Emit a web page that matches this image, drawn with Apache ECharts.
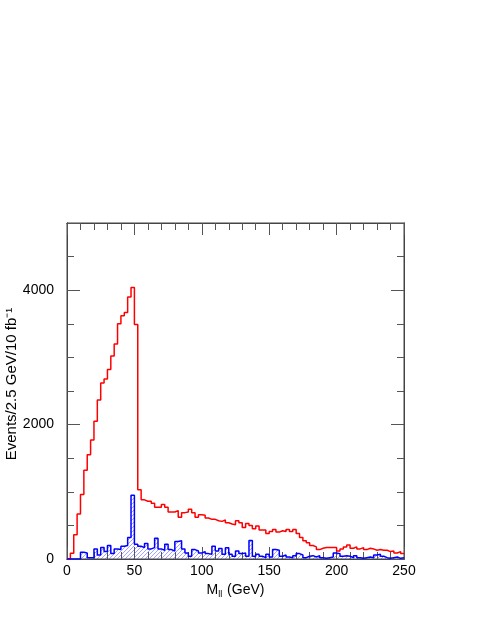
<!doctype html>
<html lang="en">
<head>
    <meta charset="utf-8">
    <title>M_ll histogram</title>
    <style>
        html, body { margin: 0; padding: 0; background: #fff; }
        #chart { width: 485px; height: 627px; }
    </style>
</head>
<body>
    <div id="chart"></div>
    <script src="https://cdn.jsdelivr.net/npm/echarts@6/dist/echarts.min.js"></script>
    <script>
        // bin width 2.5 GeV, 100 bins from 0 to 250
        var binWidth = 2.5;
        var redCounts = [
            0, 85, 360, 670, 960, 1320, 1550, 1770, 2050, 2365,
            2620, 2680, 2820, 3020, 3200, 3500, 3620, 3670, 3900, 4040,
            3490, 1030, 880, 860, 860, 830, 770, 770, 810, 770,
            700, 700, 720, 620, 690, 700, 740, 690, 620, 660,
            650, 610, 590, 590, 570, 560, 580, 540, 520, 510,
            570, 540, 470, 530, 500, 450, 490, 430, 430, 380,
            410, 440, 400, 420, 410, 440, 410, 440, 380, 320,
            270, 240, 200, 180, 140, 160, 170, 170, 170, 170,
            120, 150, 180, 210, 160, 180, 150, 170, 140, 160,
            150, 130, 140, 130, 130, 110, 120, 90, 110, 80
        ];
        var blueCounts = [
            0, 0, 0, 0, 100, 90, 20, 20, 150, 60,
            170, 110, 200, 80, 150, 140, 190, 200, 320, 950,
            220, 190, 170, 230, 150, 170, 310, 150, 130, 220,
            140, 120, 260, 270, 150, 90, 40, 140, 120, 90,
            110, 80, 70, 190, 120, 157, 70, 167, 70, 40,
            120, 80, 90, 40, 277, 40, 70, 40, 20, 70,
            30, 140, 130, 40, 60, 30, 20, 50, 80, 60,
            20, 40, 50, 30, 50, 20, 10, 20, 30, 90,
            80, 40, 50, 40, 20, 50, 20, 10, 20, 30,
            20, 60, 70, 40, 20, 10, 20, 30, 10, 20
        ];
        var xTicks = [0, 50, 100, 150, 200, 250];
        var yTicks = [0, 2000, 4000];

        function stepData(counts) {
            var pts = [];
            for (var i = 0; i < counts.length; i++) {
                pts.push([i * binWidth, counts[i]]);
            }
            pts.push([counts.length * binWidth, counts[counts.length - 1]]);
            return pts;
        }

        // hatch pattern for the blue fill
        var hatch = document.createElement('canvas');
        hatch.width = 4;
        hatch.height = 4;
        var hc = hatch.getContext('2d');
        hc.strokeStyle = 'rgba(80,80,255,0.75)';
        hc.lineWidth = 0.7;
        hc.beginPath();
        hc.moveTo(0, 4); hc.lineTo(4, 0);
        hc.moveTo(-1, 1); hc.lineTo(1, -1);
        hc.moveTo(3, 5); hc.lineTo(5, 3);
        hc.stroke();

        var frameColor = '#444';
        var tickColor = '#555';
        var font = 'Liberation Sans';

        function xAxisDef(pos, interval, len, withLabels) {
            return {
                type: 'value', position: pos, min: xTicks[0], max: xTicks[xTicks.length - 1], interval: interval,
                axisLine: { show: true, onZero: false, lineStyle: { color: frameColor, width: 1 } },
                axisTick: { show: true, inside: true, length: len, lineStyle: { color: tickColor } },
                splitLine: { show: false },
                axisLabel: {
                    show: withLabels, color: '#000', fontSize: 14, margin: 5, fontFamily: font
                },
                name: withLabels ? '{m|M}{s|ll}{m| (GeV)}' : '',
                nameLocation: 'middle',
                nameGap: 21,
                nameTextStyle: {
                    rich: {
                        m: { fontSize: 14, color: '#000', fontFamily: font, verticalAlign: 'top' },
                        s: { fontSize: 9, color: '#000', fontFamily: font, verticalAlign: 'top', padding: [7, 1, 0, 0] }
                    }
                }
            };
        }

        function yAxisDef(pos, interval, len, withLabels) {
            return {
                type: 'value', position: pos, min: 0, max: 5000, interval: interval,
                axisLine: { show: true, onZero: false, lineStyle: { color: frameColor, width: 1 } },
                axisTick: { show: true, inside: true, length: len, lineStyle: { color: tickColor } },
                splitLine: { show: false },
                axisLabel: {
                    show: withLabels, color: '#000', fontSize: 14, margin: 13, fontFamily: font,
                    formatter: function (v) { return yTicks.indexOf(v) >= 0 ? String(v) : ''; }
                },
                name: withLabels ? 'Events/2.5 GeV/10 fb\u207B\u00B9' : '',
                nameLocation: 'middle',
                nameGap: 48,
                nameMoveOverlap: false,
                nameRotate: 90,
                nameTextStyle: { fontSize: 15, color: '#000', fontFamily: font, padding: [0, 0, 0, 14] }
            };
        }

        var chart = echarts.init(document.getElementById('chart'), null, { renderer: 'canvas' });
        chart.setOption({
            animation: false,
            backgroundColor: '#fff',
            grid: {
                left: 67, top: 223, width: 337, height: 336,
                show: true, borderColor: frameColor, borderWidth: 1,
                containLabel: false, outerBoundsMode: 'none'
            },
            xAxis: [
                xAxisDef('bottom', 50, 12, true),
                xAxisDef('bottom', 10, 7, false),
                xAxisDef('top', 50, 12, false),
                xAxisDef('top', 10, 7, false)
            ],
            yAxis: [
                yAxisDef('left', 500, 7, true),
                yAxisDef('left', 2000, 13, false),
                yAxisDef('right', 500, 7, false),
                yAxisDef('right', 2000, 13, false)
            ],
            series: [
                {
                    type: 'line', step: 'end', data: stepData(redCounts), symbol: 'none',
                    lineStyle: { color: '#ff0000', width: 1.5 }, z: 3
                },
                {
                    type: 'line', step: 'end', data: stepData(blueCounts), symbol: 'none',
                    lineStyle: { color: '#0000ff', width: 1.5 },
                    areaStyle: { color: { image: hatch, repeat: 'repeat' }, opacity: 1 }, z: 4
                }
            ]
        });
    </script>
</body>
</html>
